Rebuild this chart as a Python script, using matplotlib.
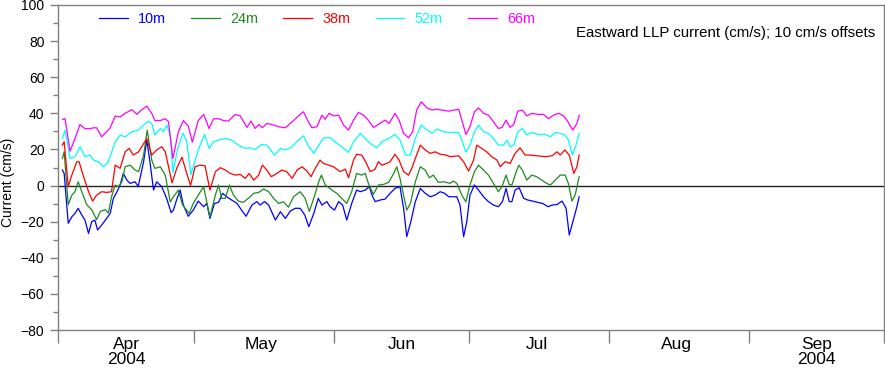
import numpy as np
import pandas as pd
import matplotlib
matplotlib.use('Agg')
import matplotlib.pyplot as plt
import matplotlib.dates as mdates
from matplotlib.ticker import MultipleLocator, NullFormatter

plt.rcParams['font.family'] = ['Liberation Sans', 'DejaVu Sans']

# time axis: days since 2004-04-01 00:00 (cm/s, offset 10 cm/s per depth)
start = pd.Timestamp('2004-04-01')

days_10m = [0.9, 1.3, 2.2, 3.0, 3.7, 4.4, 5.2, 5.9, 6.7, 7.4,
            8.1, 8.7, 9.6, 10.7, 11.5, 12.2, 13.0, 13.7, 14.4, 15.2,
            15.9, 17.0, 17.7, 18.9, 19.6, 20.3, 21.1, 21.8, 22.9, 24.0,
            25.0, 25.5, 26.2, 27.0, 27.7, 28.8, 29.9, 31.0, 32.2, 32.9,
            33.6, 34.6, 35.5, 36.4, 37.3, 38.4, 39.6, 40.7, 41.6, 42.9,
            44.0, 44.7, 45.7, 46.6, 48.1, 49.2, 50.3, 51.4, 52.5, 53.6,
            54.6, 55.5, 56.6, 57.6, 58.4, 59.5, 60.2, 61.2, 62.1, 63.0,
            63.9, 65.0, 66.1, 66.9, 68.0, 68.9, 69.5, 70.2, 71.3, 72.4,
            73.5, 74.6, 75.7, 76.5, 77.2, 78.1, 79.1, 80.2, 81.3, 82.4,
            83.5, 84.6, 85.6, 86.5, 88.3, 89.0, 89.8, 90.5, 91.2, 92.2,
            93.1, 94.2, 95.3, 96.4, 97.5, 98.4, 99.2, 99.9, 100.5, 101.2,
            102.1, 103.1, 104.0, 105.1, 106.2, 107.3, 108.5, 109.4, 110.5, 111.6,
            112.5, 113.2, 114.2, 114.9, 115.4]
u_10m = [8.6, 6.7, -20.9, -17.3, -15.4, -12.6, -16.3, -19.1, -26.5, -20.0,
         -19.1, -24.6, -21.9, -18.2, -15.4, -7.1, -3.4, 0.3, 6.7, 3.0,
         1.2, 2.1, -0.6, 13.2, 25.2, 13.2, -2.5, 2.1, -0.6, -7.1,
         -15.0, -13.6, -8.0, -2.5, -10.8, -17.0, -13.6, -8.6, -11.7, -9.9,
         -18.2, -9.9, -9.3, -4.3, -6.2, -8.0, -9.9, -14.0, -17.0, -10.8,
         -8.9, -10.8, -8.9, -10.8, -19.1, -14.5, -18.2, -14.1, -12.6, -12.6,
         -16.3, -22.8, -15.4, -7.1, -10.8, -8.9, -11.7, -13.6, -8.9, -10.8,
         -19.1, -9.9, -2.5, -3.4, -2.5, -0.6, -5.3, -8.9, -8.0, -7.5,
         -4.3, -1.6, -0.6, -12.6, -28.3, -20.0, -8.9, -1.6, -4.3, -6.2,
         -5.3, -3.4, -4.3, -6.2, -6.2, -10.8, -28.3, -20.0, -5.3, 0.3,
         -2.5, -6.2, -8.9, -10.8, -11.7, -8.9, -1.6, -8.9, -8.9, -2.5,
         -1.2, -7.1, -8.0, -8.6, -9.3, -9.9, -11.7, -10.8, -10.5, -8.6,
         -12.6, -27.4, -18.2, -11.7, -6.2]

days_24m = [0.9, 1.3, 2.2, 3.0, 3.7, 4.4, 5.2, 6.3, 7.4, 8.5,
            9.3, 10.4, 11.1, 11.8, 12.6, 13.3, 14.1, 14.8, 15.9, 17.0,
            17.8, 18.9, 19.7, 20.7, 21.4, 22.6, 23.7, 24.8, 25.5, 26.6,
            27.5, 29.0, 29.9, 31.0, 32.2, 33.1, 33.6, 34.8, 35.5, 36.2,
            37.0, 37.9, 38.8, 39.9, 41.0, 42.1, 43.3, 44.4, 45.5, 46.6,
            47.7, 48.8, 49.9, 51.0, 52.1, 53.6, 54.7, 55.6, 56.6, 57.7,
            58.3, 59.1, 60.6, 61.7, 62.8, 63.9, 65.0, 66.1, 67.2, 68.0,
            68.7, 69.8, 70.9, 72.0, 73.2, 74.3, 75.0, 75.7, 76.5, 77.2,
            78.0, 79.1, 80.2, 81.3, 82.2, 83.1, 84.2, 85.4, 86.8, 87.5,
            88.3, 89.4, 90.3, 91.2, 92.2, 93.1, 94.2, 95.3, 96.4, 97.5,
            98.3, 99.2, 99.9, 100.5, 101.2, 102.0, 102.8, 103.8, 104.9, 106.0,
            107.1, 108.2, 109.0, 110.1, 111.2, 112.3, 113.0, 113.8, 114.5, 115.4]
u_24m = [15.0, 18.7, -10.6, -5.3, -3.4, 2.1, -3.4, -10.6, -13.4, -18.9,
         -14.3, -13.4, -15.2, -6.2, 0.3, -0.6, 2.1, 10.4, 11.3, 8.6,
         7.7, 16.9, 30.7, 14.1, 9.5, 10.4, 5.8, -9.0, -6.2, -2.5,
         -10.6, -15.4, -9.9, -5.3, -0.6, -11.7, -17.3, -5.3, 0.3, -7.1,
         -7.1, 0.3, -5.3, -8.6, -9.3, -7.1, -4.3, -3.8, -1.9, -3.4,
         -7.1, -9.9, -9.0, -12.0, -6.2, -3.4, -7.1, -14.3, -7.1, 2.1,
         5.8, 0.5, -2.5, -4.3, -7.1, -9.9, -3.4, 6.7, 5.8, 6.7,
         1.2, -4.9, 0.3, 0.6, 1.8, 6.7, 10.4, 4.0, -5.3, -13.6,
         -9.9, 2.1, 10.4, 8.6, 4.3, 5.8, 1.8, 2.1, 1.2, 2.5,
         1.2, -5.3, -9.0, 0.3, 7.7, 11.3, 8.6, 5.8, 1.2, -3.4,
         -0.6, 5.8, 0.6, 0.3, 5.8, 11.3, 8.6, 3.0, 5.8, 4.9,
         3.0, 1.2, 0.3, 3.0, 5.8, 5.8, 1.2, -8.6, -5.3, 4.9]

days_38m = [0.9, 1.3, 2.2, 3.0, 4.1, 4.6, 5.6, 6.7, 7.6, 8.5,
            9.6, 10.7, 11.8, 12.6, 13.7, 14.8, 15.7, 16.6, 17.8, 18.6,
            19.6, 20.7, 21.8, 22.9, 23.7, 25.2, 26.3, 27.4, 28.3, 29.3,
            30.3, 31.4, 32.5, 33.6, 34.8, 35.9, 37.0, 38.1, 39.2, 40.3,
            41.4, 42.3, 43.3, 44.4, 45.2, 46.2, 47.2, 48.4, 49.5, 50.6,
            51.8, 52.9, 54.0, 55.1, 56.0, 56.9, 58.0, 58.7, 59.9, 61.0,
            62.4, 63.6, 64.3, 65.4, 66.1, 67.2, 68.1, 69.1, 70.2, 70.9,
            71.7, 72.8, 73.5, 74.6, 75.5, 76.5, 77.6, 78.3, 79.1, 80.2,
            81.3, 82.4, 83.5, 84.6, 85.7, 86.8, 88.7, 89.8, 90.9, 92.0,
            92.7, 93.8, 94.9, 96.0, 97.2, 97.9, 99.0, 100.1, 101.2, 102.3,
            103.4, 104.5, 106.0, 107.9, 109.4, 110.5, 111.2, 112.2, 113.2, 114.2,
            114.9, 115.4]
u_38m = [22.4, 24.3, -0.6, 5.8, 13.2, 13.2, 4.9, -3.4, -8.6, -5.3,
         -3.4, -3.8, -3.4, 11.3, 9.5, 18.7, 20.6, 16.9, 18.7, 22.0,
         26.0, 16.9, 19.7, 21.5, 18.7, 1.5, 10.0, 15.7, 8.0, 0.0,
         10.4, 11.3, 11.0, -2.5, 7.7, 9.9, 8.6, 6.7, 5.8, 6.2,
         4.0, 6.7, 3.0, 5.8, 11.3, 8.6, 4.9, 6.7, 8.6, 7.7,
         4.0, 8.6, 10.4, 8.0, 4.9, 9.5, 14.1, 12.3, 11.3, 10.4,
         7.7, 9.1, 4.3, 14.1, 17.3, 16.9, 13.2, 7.7, 9.1, 13.2,
         11.3, 12.3, 13.2, 17.3, 14.1, 7.7, 5.8, 9.5, 15.0, 22.4,
         19.7, 17.8, 18.7, 17.3, 17.0, 16.0, 16.5, 13.2, 8.0, 14.1,
         22.4, 20.6, 18.7, 16.0, 14.1, 10.4, 13.2, 12.3, 17.8, 20.9,
         16.9, 16.9, 16.5, 16.0, 16.5, 18.7, 16.9, 19.7, 16.9, 6.7,
         10.4, 16.9]

days_52m = [0.9, 1.5, 2.6, 3.7, 4.8, 5.9, 7.0, 7.8, 8.9, 10.0,
            11.1, 12.6, 13.7, 14.8, 16.3, 17.7, 18.9, 20.0, 20.7, 21.4,
            22.6, 23.3, 24.0, 24.8, 25.4, 26.4, 27.6, 28.4, 29.4, 31.0,
            32.4, 33.4, 34.4, 35.5, 37.0, 38.4, 39.9, 41.4, 42.5, 43.6,
            45.1, 46.2, 47.9, 49.2, 50.3, 51.8, 53.2, 54.3, 55.3, 56.6,
            57.7, 58.8, 60.2, 61.3, 62.8, 64.3, 65.4, 66.9, 68.0, 69.1,
            70.6, 71.7, 73.2, 74.6, 75.7, 76.9, 78.0, 79.1, 80.4, 81.3,
            82.8, 83.9, 85.4, 86.5, 88.7, 89.4, 90.3, 91.2, 92.2, 93.1,
            94.2, 95.3, 96.4, 97.5, 98.6, 99.4, 100.1, 100.9, 101.8, 102.8,
            103.8, 104.8, 106.4, 107.9, 109.0, 110.1, 111.2, 112.3, 113.0, 113.9,
            114.7, 115.4]
u_52m = [26.1, 30.7, 15.0, 16.0, 21.5, 16.0, 16.9, 14.1, 13.2, 10.4,
         13.2, 24.3, 28.0, 27.0, 29.8, 30.7, 33.5, 35.7, 34.4, 28.0,
         31.6, 29.8, 33.5, 28.0, 7.2, 20.0, 29.0, 25.0, 6.0, 19.7,
         28.3, 20.6, 24.3, 25.2, 26.1, 25.2, 22.4, 20.6, 20.9, 20.0,
         22.8, 22.4, 16.9, 20.6, 19.7, 21.5, 25.2, 27.6, 22.4, 17.8,
         22.4, 26.5, 26.5, 24.3, 21.5, 18.4, 24.3, 28.9, 26.1, 23.3,
         20.9, 24.3, 26.1, 28.3, 25.2, 16.9, 16.9, 26.1, 33.5, 31.6,
         28.9, 31.3, 29.8, 29.4, 29.4, 25.2, 18.4, 22.4, 29.8, 33.5,
         29.8, 28.9, 26.1, 22.4, 22.4, 25.2, 21.5, 22.4, 29.8, 31.6,
         28.0, 29.4, 28.3, 28.3, 27.0, 29.4, 28.9, 28.0, 25.2, 16.9,
         22.4, 28.9]

days_66m = [0.9, 1.5, 2.6, 3.7, 4.8, 5.9, 7.0, 7.8, 8.5, 9.6,
            10.4, 11.5, 12.6, 13.7, 14.8, 16.3, 17.4, 18.5, 19.6, 20.7,
            21.4, 22.6, 23.7, 24.4, 25.4, 26.6, 27.7, 28.8, 29.7, 31.0,
            32.2, 32.8, 33.4, 34.4, 35.5, 36.6, 37.7, 39.2, 40.3, 41.8,
            42.7, 43.6, 44.4, 45.2, 46.2, 47.3, 48.8, 50.3, 51.8, 53.2,
            54.3, 55.4, 56.2, 57.3, 58.4, 59.1, 60.0, 61.0, 62.1, 63.2,
            64.3, 65.4, 66.5, 67.6, 68.7, 69.8, 70.9, 72.4, 73.3, 74.6,
            75.5, 76.5, 77.6, 78.5, 79.4, 80.4, 81.7, 82.8, 83.9, 85.0,
            86.5, 88.7, 89.4, 90.3, 91.2, 92.2, 93.1, 94.2, 95.3, 96.4,
            97.5, 98.3, 99.2, 100.1, 100.9, 101.8, 102.8, 103.8, 104.9, 106.4,
            107.5, 108.6, 109.7, 110.8, 111.9, 112.7, 114.0, 114.9, 115.4]
u_66m = [36.7, 37.0, 19.0, 26.0, 33.8, 31.5, 31.5, 32.0, 32.0, 27.0,
         29.0, 32.0, 38.5, 38.0, 40.0, 42.0, 39.5, 42.0, 44.0, 40.0,
         36.0, 36.0, 37.0, 35.5, 15.0, 29.7, 36.0, 33.0, 24.0, 36.0,
         39.4, 35.7, 31.6, 37.0, 37.0, 36.0, 35.7, 39.4, 38.6, 32.2,
         35.7, 31.6, 33.8, 32.0, 34.4, 33.8, 32.6, 32.0, 35.3, 38.6,
         40.9, 35.3, 32.0, 32.6, 39.0, 36.7, 40.0, 38.6, 39.0, 33.5,
         30.7, 36.2, 40.5, 39.0, 36.2, 32.2, 33.8, 36.2, 34.4, 40.0,
         36.2, 28.9, 26.5, 29.8, 41.8, 46.4, 43.0, 41.8, 42.3, 41.8,
         41.2, 42.3, 36.2, 28.3, 32.6, 40.9, 43.0, 40.0, 39.0, 35.3,
         31.6, 32.2, 36.2, 32.2, 33.8, 41.2, 41.8, 38.6, 40.0, 39.4,
         39.4, 37.0, 39.0, 40.0, 38.6, 36.2, 30.7, 34.4, 39.0]

depths = ['10m', '24m', '38m', '52m', '66m']
colors = ['#0000ff', '#1e8c1e', '#ff0000', '#00ffff', '#ff00ff']
month_labels = ['Apr\n2004', 'May', 'Jun', 'Jul', 'Aug', 'Sep\n2004']

series = [(days_10m, u_10m), (days_24m, u_24m), (days_38m, u_38m),
          (days_52m, u_52m), (days_66m, u_66m)]

fig = plt.figure(figsize=(8.85, 3.72), dpi=100)
ax = fig.add_axes([58.3 / 885, 1 - 330 / 372, 826 / 885, 325 / 372])

axcol = '#808080'
ax.axhline(0, color='#222222', lw=1.0, zorder=1)

for (d, u), lab, c in zip(series, depths, colors):
    t = start + pd.to_timedelta(np.array(d), unit='D')
    ax.plot(t, u, color=c, lw=0.9, label=lab, zorder=2)

# ticks: month boundaries as major ticks, month names centred mid-month
ax.set_yticks(np.arange(-80, 101, 20))
ax.yaxis.set_minor_locator(MultipleLocator(10))

ax.xaxis.set_major_locator(mdates.MonthLocator())
ax.xaxis.set_major_formatter(NullFormatter())
mids = pd.date_range('2004-04-01', periods=6, freq='MS') + pd.Timedelta(days=15)
ax.set_xticks(mids, month_labels, minor=True)
for lbl in ax.get_xticklabels(minor=True):
    lbl.set_linespacing(1.02)

ax.set_xlim(start, pd.Timestamp('2004-10-01'))
ax.set_ylim(-80, 100)

ax.tick_params(axis='y', which='major', direction='out', length=6, width=1,
               color=axcol, labelsize=10, pad=4)
ax.tick_params(axis='y', which='minor', direction='out', length=3.5, width=1,
               color=axcol)
ax.tick_params(axis='x', which='major', direction='out', length=9.5, width=1,
               color=axcol)
ax.tick_params(axis='x', which='minor', length=0, labelsize=12.5, pad=5)

for s in ax.spines.values():
    s.set_color(axcol)
    s.set_linewidth(1.0)

ax.set_ylabel('Current (cm/s)', fontsize=10)
ax.yaxis.set_label_coords(-0.053, 0.455)

ax.legend(loc='upper left', bbox_to_anchor=(0.049, 0.978), ncol=5,
          frameon=False, fontsize=10.4, handlelength=2.0, handletextpad=0.7,
          columnspacing=1.75, labelcolor='linecolor', borderpad=0,
          borderaxespad=0)

ax.text(0.9888, 0.914, 'Eastward LLP current (cm/s); 10 cm/s offsets',
        transform=ax.transAxes, ha='right', va='center', fontsize=10.8)

fig.savefig('out.png', dpi=100)
